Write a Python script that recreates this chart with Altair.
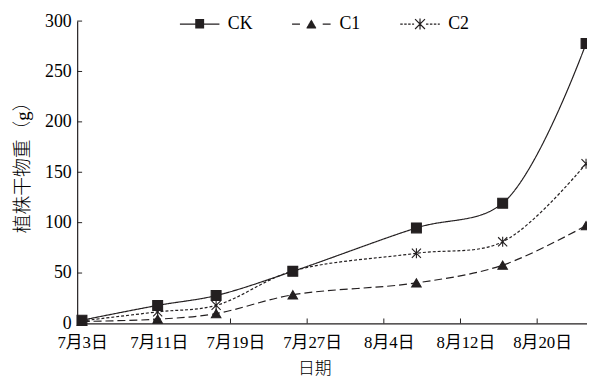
import altair as alt
import pandas as pd

# ---- data ----
days = [0.5, 8.4, 14.5, 22.5, 35.4, 44.4, 53.1]          # days after 7月3日
ck = [3.2, 17.9, 27.7, 51.7, 94.8, 119.3, 277.7]
c1 = [2.0, 4.2, 9.8, 28.4, 40.2, 57.8, 97.0]
c2 = [2.5, 11.5, 17.9, 52.0, 69.6, 81.0, 158.5]
series_names = ["CK", "C1", "C2"]
x_tick_days = [0, 8, 16, 24, 32, 40, 48]
x_tick_labels = ["7月3日", "7月11日", "7月19日", "7月27日", "8月4日", "8月12日", "8月20日"]
y_ticks = [0, 50, 100, 150, 200, 250, 300]
x_inner_ticks = [8, 16, 24, 32, 40, 48]

rows = []
for name, vals in zip(series_names, [ck, c1, c2]):
    for d, v in zip(days, vals):
        rows.append({"day": d, "value": v, "series": name})
df = pd.DataFrame(rows)

INK = "#231f20"
FONT = "Liberation Serif, Noto Sans CJK SC"
W, H = 516, 306

# ---- marker / legend symbol paths (style constants) ----
star = "M-1,-1L1,1M-1,1L1,-1M0,-1.1V1.1"

def segs(a, b, dash, gap):
    out, s = [], a
    while s < b - 1e-9:
        e = min(s + dash, b)
        out.append(f"M{s:.2f},0H{e:.2f}")
        s = e + gap
    return "".join(out)

def hatch_square(r, step=0.07):
    out, y = [], -r
    while y <= r + 1e-9:
        out.append(f"M{-r:.2f},{y:.2f}H{r:.2f}")
        y += step
    return "".join(out)

def hatch_triangle(top, bottom, half, step=0.07):
    out, y = [], top
    while y <= bottom + 1e-9:
        hw = half * (y - top) / (bottom - top)
        out.append(f"M{-hw:.3f},{y:.2f}H{hw:.3f}")
        y += step
    return "".join(out)

legend_paths = [
    "M-2,0H2" + hatch_square(0.45),
    segs(-1.95, -1.15, 1, 0) + segs(1.15, 1.95, 1, 0) + hatch_triangle(-0.45, 0.42, 0.5),
    segs(-2.0, -0.6, 0.25, 0.15) + segs(0.6, 2.0, 0.25, 0.15)
    + "M-0.5,-0.5L0.5,0.5M-0.5,0.5L0.5,-0.5M0,-0.55V0.55",
]

label_arr = "[" + ",".join(f"'{t}'" for t in x_tick_labels) + "]"

xenc = alt.X(
    "day:Q",
    scale=alt.Scale(domain=[0, 53.2], nice=False, zero=False),
    axis=alt.Axis(
        values=x_tick_days,
        labelExpr=f"{label_arr}[round(datum.value/8)]",
        tickSize=0, grid=False, title="日期", labelOverlap=False, labelFlush=False,
        labelPadding=11, labelOffset=5, titlePadding=11, titleX=240,
        labelFontSize=17, titleFontSize=17, titleFontWeight=300,
    ),
)
yenc = alt.Y(
    "value:Q",
    scale=alt.Scale(domain=[0, 300], nice=False),
    axis=alt.Axis(
        values=y_ticks, tickSize=0, grid=False, title="植株干物重（g）",
        labelPadding=6, titlePadding=12, titleY=143,
        labelFontSize=18, titleFontSize=19, titleFontWeight=300,
    ),
)

base = alt.Chart(df)

lines = base.mark_line(interpolate="catmull-rom", color=INK, strokeWidth=1.2).encode(
    x=xenc, y=yenc,
    strokeDash=alt.StrokeDash("series:N",
                              scale=alt.Scale(domain=series_names, range=[[1, 0], [8, 4], [3, 2]]),
                              legend=None),
    detail="series:N",
)

points = base.mark_point(filled=True, fill=INK, stroke=INK, strokeWidth=1.1, opacity=1).encode(
    x="day:Q", y="value:Q",
    shape=alt.Shape("series:N",
                    scale=alt.Scale(domain=series_names, range=["square", "triangle-up", star]),
                    legend=None),
    size=alt.Size("series:N", scale=alt.Scale(domain=series_names, range=[100, 85, 64]), legend=None),
)

legend_layer = base.transform_filter("datum.value < 0").mark_point(
    filled=False, color=INK, strokeWidth=1.2, opacity=1, size=400
).encode(
    shape=alt.Shape("series:N",
                    scale=alt.Scale(domain=series_names, range=legend_paths),
                    legend=alt.Legend(
                        title=None, orient="none", direction="horizontal",
                        legendX=113, legendY=-8, padding=0,
                        symbolSize=400, symbolStrokeWidth=1.2,
                        symbolStrokeColor=INK, symbolOpacity=1,
                        labelOffset=17.5, columnPadding=37,
                        labelFont=FONT, labelFontSize=18, labelColor="black",
                    )),
)

yticks_df = pd.DataFrame({"value": y_ticks})
xticks_df = pd.DataFrame({"day": x_inner_ticks})
ytick_rules = alt.Chart(yticks_df).mark_rule(color=INK, strokeWidth=1).encode(
    y="value:Q", x=alt.value(0), x2=alt.value(5))
xtick_rules = alt.Chart(xticks_df).mark_rule(color=INK, strokeWidth=1).encode(
    x="day:Q", y=alt.value(H), y2=alt.value(H - 5))

chart = alt.layer(lines, points, legend_layer, ytick_rules, xtick_rules).resolve_scale(
    shape="independent"
).properties(
    width=W, height=H,
    autosize=alt.AutoSizeParams(type="none"),
    padding={"left": 70, "top": 11, "right": 0, "bottom": 55},
).configure(background="white").configure_view(stroke=None).configure_axis(
    domainColor=INK, domainWidth=1.2, labelColor="black", titleColor="black",
    labelFont=FONT, titleFont=FONT, titleFontWeight="normal",
)

chart.save("out.html", embed_options={"renderer": "svg", "actions": False})
